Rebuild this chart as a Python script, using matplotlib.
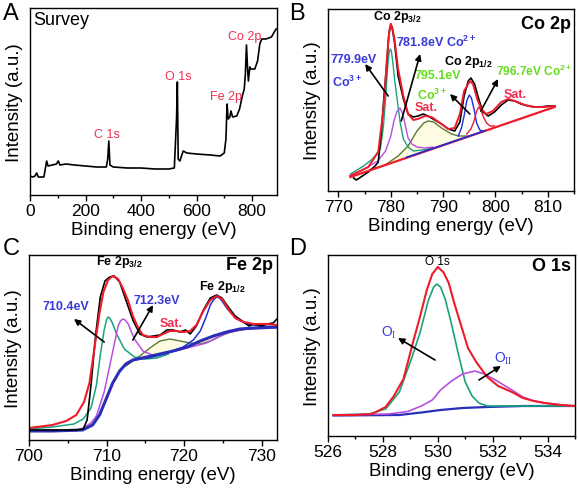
import numpy as np
import matplotlib
matplotlib.use('Agg')
import matplotlib.pyplot as plt
from matplotlib.ticker import MultipleLocator

plt.rcParams['font.family'] = ['Liberation Sans', 'DejaVu Sans']
plt.rcParams['mathtext.fontset'] = 'custom'
plt.rcParams['mathtext.rm'] = 'Liberation Sans'
plt.rcParams['mathtext.bf'] = 'Liberation Sans:bold'
plt.rcParams['mathtext.sf'] = 'Liberation Serif'

# colours
RED = '#ee1c2a'
GREEN = '#1aa37a'
PURPLE = '#b84ee0'
OLIVE = '#5b7a2e'
BLUE = '#1c2fd6'
NAVY = '#2a2fb8'
TXT_BLUE = '#3a3ad8'
TXT_LIME = '#66dd1e'
TXT_RED = '#f03050'
FILL = '#fdfbe2'

# ---- A: survey ----
survey_x = [0, 10, 18, 24, 30, 50, 55, 60, 65, 80, 95, 102, 108, 130, 160, 200, 240, 275,
            280, 284, 288, 300, 350, 400, 450, 500, 520, 528, 531, 534, 540, 552, 565, 600,
            650, 685, 700, 706, 710, 714, 720, 724, 730, 745, 755, 765, 772, 776, 780, 784,
            787, 792, 796, 810, 820, 828, 835, 850, 870, 880, 887]
survey_y = [19, 18, 19, 22, 18, 18, 26, 34, 29, 30, 31, 34, 30, 31, 30, 29, 28, 28,
            36, 54, 30, 28, 27, 27, 26, 26, 27, 76, 113, 36, 34, 44, 42, 41,
            40, 39, 42, 56, 91, 76, 78, 84, 78, 79, 86, 99, 106, 121, 150, 126,
            114, 128, 126, 126, 134, 151, 156, 156, 158, 163, 166]
survey_peaks = ['C 1s', 'O 1s', 'Fe 2p', 'Co 2p']
survey_peak_pos = [(277, 61), (533, 119), (706, 99), (775, 159)]

# ---- B: Co 2p ----
b_raw_x = [772.9, 773.4, 774.0, 775.7, 777.0, 777.6, 778.2, 778.7, 779.2, 779.6, 780.0, 780.3,
           780.7, 781.4, 782.4, 783.3, 784.3, 785.2, 786.2, 787.1, 788.4, 789.7, 791.0, 792.2,
           793.2, 794.0, 794.8, 795.3, 796.0, 796.8, 797.6, 798.6, 799.8, 801.1, 802.4, 803.7,
           804.9, 806.2, 807.5, 808.7, 810.0, 811.3]
b_raw_y = [13, 11, 13, 19, 25, 29, 59, 95, 125, 155, 167, 162,
           149, 115, 92, 77, 74, 75, 77, 75, 71, 67, 62, 60,
           69, 95, 110, 113, 107, 92, 79, 75, 79, 86, 91, 90,
           87, 85, 84, 84, 85, 85]
b_fit_x = [772.2, 775.7, 777.6, 778.6, 779.3, 779.7, 780.0, 780.3, 780.7, 781.4, 782.4, 783.3,
           784.3, 785.2, 786.5, 787.8, 789.4, 791.0, 792.2, 793.2, 794.0, 795.1, 795.7, 796.5,
           797.3, 798.2, 799.5, 801.1, 802.4, 803.7, 805.6, 807.5, 809.4, 811.3]
b_fit_y = [15, 24, 39, 82, 135, 160, 167, 163, 152, 122, 95, 77,
           71, 72, 75, 74, 68, 62, 63, 77, 100, 110, 107, 92,
           82, 77, 80, 89, 92, 90, 86, 84, 84, 85]
b_bg_x = [772.3, 811.3]
b_bg_y = [14, 84]
b_bgblue_x = [783.0, 798.0]
b_bgblue_y = [33.6, 60.3]
b_co3a_x = [772.3, 774.8, 776.5, 778.0, 778.6, 779.0, 779.4, 779.7, 779.9, 780.1, 780.4, 780.8,
            781.2, 781.8, 782.4, 783.3, 784.3, 786.0, 788.0]
b_co3a_y = [17, 25, 32, 42, 65, 92, 125, 139, 142, 140, 128, 108,
            92, 68, 52, 44, 40, 41, 43]
b_co2a_x = [772.5, 775.0, 777.5, 779.0, 780.0, 780.6, 781.2, 781.75, 782.3, 782.8, 783.3, 784.0,
            785.0, 786.5, 788.0]
b_co2a_y = [16, 22, 30, 40, 55, 70, 80, 83, 77, 65, 53, 47, 44, 43, 44]
b_sat_x = [776.0, 778.9, 781.4, 783.3, 785.0, 786.3, 787.1, 788.2, 789.7, 791.6, 793.0, 794.5]
b_sat_y = [21.5, 26, 35, 45, 60, 68, 70, 69, 63, 57, 55, 55]
b_co3b_x = [792.9, 793.5, 794.0, 794.5, 795.0, 795.4, 795.9, 796.4, 797.0, 797.6]
b_co3b_y = [55, 63, 75, 90, 96, 93, 82, 68, 61, 60]
b_co2b_x = [794.5, 795.3, 795.9, 796.4, 796.8, 797.2, 797.7, 798.3, 799.0, 799.8]
b_co2b_y = [57, 62, 70, 80, 84, 81, 74, 68, 65, 65]

# ---- C: Fe 2p ----
c_raw_x = [700, 703, 706, 707.0, 707.5, 708.0, 708.6, 709.2, 709.8, 710.4, 711.0, 711.7, 712.5,
           713.4, 714.3, 715.2, 716.1, 716.9, 717.8, 718.6, 719.5, 720.2, 720.8, 721.6, 722.5,
           723.4, 724.2, 724.9, 725.8, 726.6, 727.7, 728.4, 729.0, 730.0, 730.7, 731.5, 732]
c_raw_y = [10, 10, 10, 11, 20, 55, 105, 143, 159, 163, 164, 158, 140,
           120, 106, 103, 104, 105, 110, 110, 108, 110, 106, 114, 130,
           142, 145, 142, 132, 124, 118, 114, 116, 114, 116, 117, 121]
c_fit_x = [700, 703, 704.8, 706.1, 707.1, 707.8, 708.5, 709.1, 709.6, 710.2, 710.8, 711.5, 712.1,
           712.8, 713.4, 714.1, 714.7, 715.6, 716.5, 717.3, 718.2, 719.0, 719.9, 720.8, 721.6,
           722.5, 723.4, 724.2, 724.9, 725.8, 726.6, 727.7, 729.0, 730.7, 732]
c_fit_y = [12, 15, 19, 25, 38, 57, 95, 127, 148, 160, 164, 161, 152,
           139, 124, 112, 105, 103, 103, 106, 109, 109, 108, 109, 115,
           129, 140, 144, 141, 130, 122, 118, 116, 116, 115]
c_bg_x = [700, 703, 706.9, 708.2, 709.1, 709.9, 710.8, 711.7, 712.5, 713.4, 715.2, 716.9, 718.6,
          720.4, 722.1, 723.8, 725.5, 727.2, 729.0, 732]
c_bg_y = [9, 9, 10, 15, 25, 40, 57, 69, 76, 80, 83, 86, 89, 93, 99, 104, 108, 111, 112, 113]
c_p1_x = [700, 703, 705.8, 707.0, 708.0, 708.7, 709.2, 709.7, 710.0, 710.2, 710.4, 710.7, 711.3,
          712.3, 713.6, 715.0, 716.5, 718.0]
c_p1_y = [11, 13, 16, 21, 32, 55, 85, 110, 120, 123, 122, 118, 106,
          91, 83, 81, 82, 86]
c_p2_x = [706.0, 707.0, 708.0, 708.7, 709.7, 710.6, 711.5, 711.8, 712.1, 712.4, 712.8, 713.6,
          714.7, 716.2, 717.8, 720.4, 722.9, 725.5, 728.1, 732]
c_p2_y = [9, 12, 17, 24, 48, 81, 114, 119, 121, 120, 116, 101,
          89, 84, 87, 92, 97, 107, 111, 112]
c_sat_x = [712.5, 714.3, 715.6, 716.9, 718.2, 719.5, 720.8, 722.1, 723.4, 724.7, 726.4, 728.1, 732]
c_sat_y = [74, 84, 92, 99, 101, 99, 97, 96, 99, 104, 109, 111, 113]
c_p3_x = [713.4, 715.4, 717.5, 719.9, 721.2, 722.1, 722.8, 723.4, 723.8, 724.2, 724.6, 724.9,
          725.6, 726.8, 728.1, 729.9, 732]
c_p3_y = [80, 82, 86, 93, 100, 109, 122, 135, 140, 143, 142, 139,
          131, 121, 116, 114, 113]

# ---- D: O 1s ----
d_fit_x = [526.2, 527.0, 527.6, 528.1, 528.4, 528.75, 529.1, 529.36, 529.6, 529.8, 530.0, 530.2,
           530.4, 530.6, 530.9, 531.1, 531.4, 531.8, 532.2, 532.7, 533.1, 533.5, 533.9, 534.5, 535.0]
d_fit_y = [21, 21, 22, 29, 40, 57, 94, 120, 146, 162, 169, 164,
           153, 133, 106, 88, 74, 59, 50, 44, 38, 35, 33, 31, 30]
d_o1_x = [526.2, 527.5, 528.1, 528.6, 529.05, 529.36, 529.65, 529.85, 529.97, 530.1, 530.27,
          530.5, 530.75, 531.0, 531.25, 531.5, 531.8, 532.2, 535.0]
d_o1_y = [21, 22, 27, 44, 78, 104, 135, 149, 152, 149, 137,
          112, 82, 54, 40, 33, 30, 30, 30]
d_o2_x = [526.2, 528.2, 528.9, 529.4, 529.8, 530.1, 530.5, 530.9, 531.35, 531.7, 532.1, 532.7,
          533.1, 533.5, 533.9, 534.5, 535.0]
d_o2_y = [21, 22, 24.5, 30, 36, 46, 55, 62, 65, 62, 56, 46, 39, 35, 33, 31, 30]
d_bg_x = [526.2, 528.6, 529.4, 530.1, 530.9, 531.8, 533.1, 535.0]
d_bg_y = [20.5, 21, 23.5, 26, 28, 29, 30, 30]

W, H = 578, 489
fig = plt.figure(figsize=(W / 100, H / 100), dpi=100)


def box(l, t, r, b):
    return fig.add_axes([l / W, 1 - b / H, (r - l) / W, (b - t) / H])


def style(ax, xlim, ylim, major, minor):
    ax.set_xlim(*xlim)
    ax.set_ylim(*ylim)
    ax.set_yticks([])
    ax.xaxis.set_major_locator(MultipleLocator(major))
    ax.xaxis.set_minor_locator(MultipleLocator(minor))
    ax.tick_params(axis='x', which='major', direction='out', length=4, width=1,
                   labelsize=12.5, pad=2)
    ax.tick_params(axis='x', which='minor', direction='out', length=2.5, width=1)
    for s in ax.spines.values():
        s.set_linewidth(1)
    ax.set_xlabel('Binding energy (eV)', fontsize=13.5, labelpad=2)
    ax.set_ylabel('Intensity (a.u.)', fontsize=13.5, labelpad=5)


def arrow(ax, tail, head):
    ax.annotate('', xy=head, xytext=tail,
                arrowprops=dict(arrowstyle='-|>', color='black', lw=1.2,
                                mutation_scale=9, shrinkA=0, shrinkB=0))


# A
axA = box(30, 9, 277, 196)
axA.plot(survey_x, survey_y, color='black', lw=1.2)
style(axA, (0, 890), (0, 187), 200, 100)
axA.text(0.012, 0.94, 'Survey', transform=axA.transAxes, fontsize=13, va='center')
for lab, pos in zip(survey_peaks, survey_peak_pos):
    axA.text(pos[0], pos[1], lab, color=TXT_RED, fontsize=9, ha='center', va='center')

# B
axB = box(328, 10, 574, 192)
bgi = np.interp(b_sat_x, b_bg_x, b_bg_y)
axB.fill_between(b_sat_x, bgi, b_sat_y, color=FILL, lw=0)
axB.plot(b_sat_x, b_sat_y, color=OLIVE, lw=1)
axB.plot(b_co3a_x, b_co3a_y, color=GREEN, lw=1)
axB.plot(b_co2a_x, b_co2a_y, color=PURPLE, lw=1)
axB.plot(b_co3b_x, b_co3b_y, color=BLUE, lw=1)
axB.plot(b_co2b_x, b_co2b_y, color=RED, lw=1)
axB.plot(b_raw_x, b_raw_y, color='black', lw=1.2)
axB.plot(b_fit_x, b_fit_y, color=RED, lw=1.4)
axB.plot(b_bg_x, b_bg_y, color=RED, lw=1.6)
axB.plot(b_bgblue_x, b_bgblue_y, color=BLUE, lw=1.2)
style(axB, (768, 815), (0, 182), 10, 5)
axB.text(0.988, 0.918, 'Co 2p', transform=axB.transAxes, fontsize=13,
         fontweight='bold', ha='right', va='center')
fs = 9
axB.text(781.2, 175, 'Co 2p$_{\\mathbf{3/2}}$', fontsize=fs, fontweight='bold',
         ha='center', va='center')
axB.text(794.8, 130, 'Co 2p$_{\\mathbf{1/2}}$', fontsize=fs, fontweight='bold',
         ha='center', va='center')
axB.text(768.5, 132, '779.9eV', color=TXT_BLUE, fontsize=fs, fontweight='bold', va='center')
axB.text(768.7, 110, 'Co$^{\\mathbf{3+}}$', color=TXT_BLUE, fontsize=fs, fontweight='bold',
         va='center')
axB.text(781.0, 150, '781.8eV Co$^{\\mathbf{2+}}$', color=TXT_BLUE, fontsize=fs,
         fontweight='bold', va='center')
axB.text(789.0, 116, '795.1eV', color=TXT_LIME, fontsize=fs, fontweight='bold',
         ha='center', va='center')
axB.text(787.9, 97, 'Co$^{\\mathbf{3+}}$', color=TXT_LIME, fontsize=fs, fontweight='bold',
         ha='center', va='center')
axB.text(814.6, 121, '796.7eV Co$^{\\mathbf{2+}}$', color=TXT_LIME, fontsize=8.6,
         fontweight='bold', ha='right', va='center')
axB.text(786.8, 84, 'Sat.', color=TXT_RED, fontsize=fs, fontweight='bold',
         ha='center', va='center')
axB.text(803.7, 97, 'Sat.', color=TXT_RED, fontsize=fs, fontweight='bold',
         ha='center', va='center')
arrow(axB, (779.5, 95), (775.1, 127))
arrow(axB, (782.0, 70), (785.6, 137))
arrow(axB, (795.1, 77), (791.3, 97))
arrow(axB, (797.2, 80), (800.5, 112))

# C
axC = box(29, 256, 277, 441)
bgc = np.interp(c_sat_x, c_bg_x, c_bg_y)
axC.fill_between(c_sat_x, bgc, c_sat_y, color=FILL, lw=0)
axC.plot(c_sat_x, c_sat_y, color=OLIVE, lw=1)
axC.plot(c_p1_x, c_p1_y, color=GREEN, lw=1.1)
axC.plot(c_p2_x, c_p2_y, color=PURPLE, lw=1.1)
axC.plot(c_p3_x, c_p3_y, color=BLUE, lw=1.1)
axC.plot(c_bg_x, c_bg_y, color=NAVY, lw=2.2)
axC.plot(c_raw_x, c_raw_y, color='black', lw=1.2)
axC.plot(c_fit_x, c_fit_y, color=RED, lw=1.5)
style(axC, (700, 732), (0, 185), 10, 5)
axC.text(0.984, 0.946, 'Fe 2p', transform=axC.transAxes, fontsize=13,
         fontweight='bold', ha='right', va='center')
axC.text(711.7, 179, 'Fe 2p$_{\\mathbf{3/2}}$', fontsize=9, fontweight='bold',
         ha='center', va='center')
axC.text(724.9, 154, 'Fe 2p$_{\\mathbf{1/2}}$', fontsize=9, fontweight='bold',
         ha='center', va='center')
axC.text(704.8, 134, '710.4eV', color=TXT_BLUE, fontsize=9, fontweight='bold',
         ha='center', va='center')
axC.text(716.5, 140, '712.3eV', color=TXT_BLUE, fontsize=9, fontweight='bold',
         ha='center', va='center')
axC.text(718.4, 117, 'Sat.', color=TXT_RED, fontsize=9, fontweight='bold',
         ha='center', va='center')
arrow(axC, (709.7, 98), (705.8, 121))
arrow(axC, (713.4, 100), (716.0, 135))

# D
axD = box(328, 256, 575, 437)
axD.plot(d_bg_x, d_bg_y, color=NAVY, lw=1.6)
axD.plot(d_o1_x, d_o1_y, color=GREEN, lw=1.2)
axD.plot(d_o2_x, d_o2_y, color=PURPLE, lw=1.2)
axD.plot(d_fit_x, d_fit_y, color=RED, lw=1.5)
style(axD, (526, 535), (0, 181), 2, 1)
axD.text(0.984, 0.94, 'O 1s', transform=axD.transAxes, fontsize=13,
         fontweight='bold', ha='right', va='center')
axD.text(530.0, 175, 'O 1s', fontsize=8.5, ha='center', va='center')
axD.text(528.2, 104, 'O$_{\\mathsf{I}}$', color=TXT_BLUE, fontsize=10, ha='center', va='center')
axD.text(532.4, 78, 'O$_{\\mathsf{II}}$', color=TXT_BLUE, fontsize=10, ha='center', va='center')
arrow(axD, (529.9, 76), (528.55, 98))
arrow(axD, (531.5, 56), (532.3, 70))

# panel letters
for lab, px, py in [('A', 3, 3), ('B', 289, 3), ('C', 3, 238), ('D', 289, 238)]:
    fig.text(px / W, 1 - py / H, lab, fontsize=17, va='top', ha='left')

fig.savefig('out.png', dpi=100)
